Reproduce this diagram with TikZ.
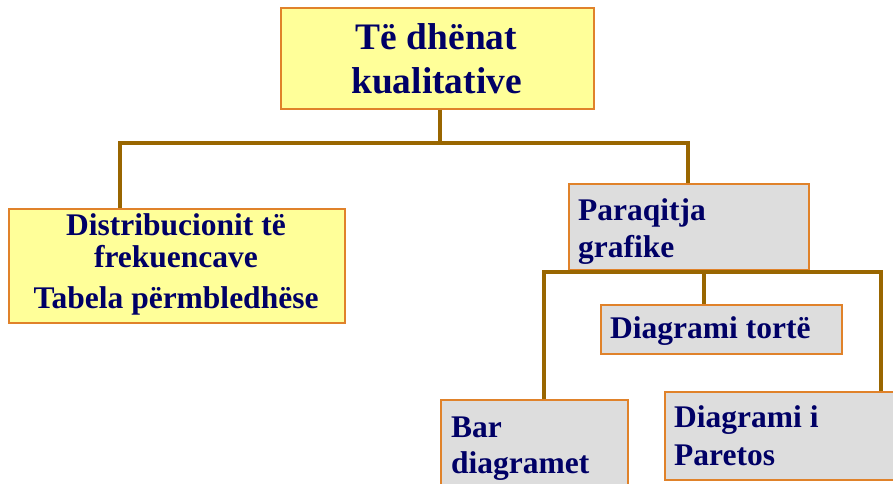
\documentclass[tikz,border=0pt]{standalone}
\usepackage{fontspec}
\setmainfont{Liberation Serif}
\definecolor{boxyellow}{HTML}{FFFF99}
\definecolor{boxgray}{HTML}{DDDDDD}
\definecolor{boxedge}{HTML}{E0822A}
\definecolor{navy}{HTML}{000066}
\definecolor{conncol}{HTML}{996600}
\tikzset{
  ybox/.style={draw=boxedge, fill=boxyellow, line width=1.5pt, inner sep=0pt, anchor=north west},
  gbox/.style={draw=boxedge, fill=boxgray, line width=1.5pt, inner sep=0pt, anchor=north west},
  conn/.style={draw=conncol, line width=3.5pt, line join=miter},
  big/.style={font=\bfseries\fontsize{37.4}{44}\selectfont, text=navy, inner sep=0pt},
  txt/.style={font=\bfseries\fontsize{31.5}{37}\selectfont, text=navy, inner sep=0pt},
}
\begin{document}
\begin{tikzpicture}[x=1pt,y=-1pt]
\useasboundingbox (0,0) rectangle (893,483);
% junction coordinates
\coordinate (s0) at (440,143);
\coordinate (h1L) at (120,143);
\coordinate (h1R) at (688,143);
\coordinate (h2L) at (544,272);
\coordinate (h2M) at (704,272);
\coordinate (h2R) at (881,272);
% boxes
\node[ybox, minimum width=313pt, minimum height=101pt] (top) at (280,7) {};
\node[ybox, minimum width=336pt, minimum height=114pt] (left) at (8,208) {};
\node[gbox, minimum width=240pt, minimum height=86pt] (para) at (568,183) {};
\node[gbox, minimum width=241pt, minimum height=49pt] (torte) at (600,304) {};
\node[gbox, minimum width=187pt, minimum height=100pt] (bar) at (440,399) {};
\node[gbox, minimum width=250pt, minimum height=88pt] (paret) at (664,391) {};
% connectors
\draw[conn] (s0 |- top.south) -- (s0);
\draw[conn] (h1L |- left.north) -- (h1L) -- (h1R) -- (h1R |- para.north);
\draw[conn] (h2L |- bar.north) -- (h2L) -- (h2R) -- (h2R |- paret.north);
\draw[conn] (h2M) -- (h2M |- torte.north);
% texts
\node[big, anchor=base] (t1) at (436.5,49) {Të dhënat};
\node[big, anchor=base] (t2) at (436.5,93) {kualitative};
\node[txt, anchor=base] (l1) at (176,235) {Distribucionit të};
\node[txt, anchor=base] (l2) at (176,267) {frekuencave};
\node[txt, anchor=base] (l3) at (176,308) {Tabela përmbledhëse};
\node[txt, anchor=base west] (p1) at (578,220) {Paraqitja};
\node[txt, anchor=base west] (p2) at (578,257) {grafike};
\node[txt, anchor=base west] (d1) at (610,338) {Diagrami tortë};
\node[txt, anchor=base west] (b1) at (451,437) {Bar};
\node[txt, anchor=base west] (b2) at (451,473) {diagramet};
\node[txt, anchor=base west] (r1) at (674,427) {Diagrami i};
\node[txt, anchor=base west] (r2) at (674,465) {Paretos};
\end{tikzpicture}
\end{document}
